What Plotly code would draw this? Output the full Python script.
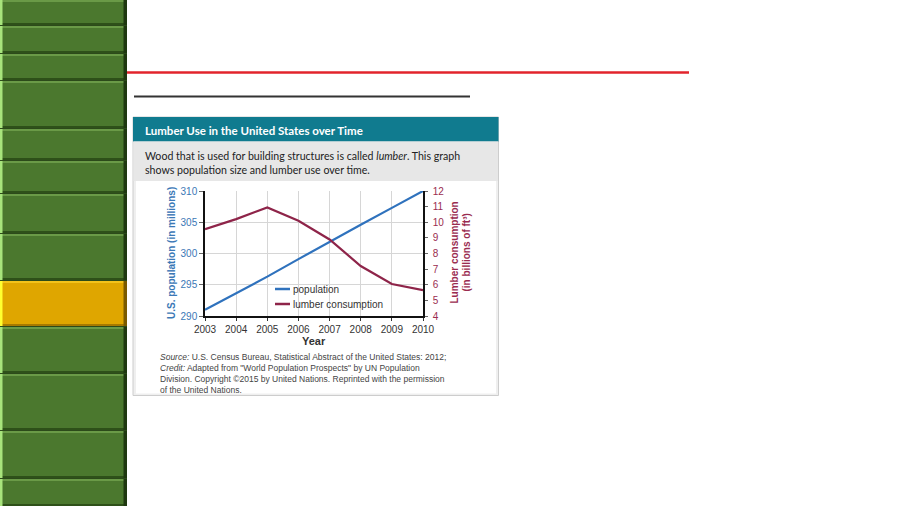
import plotly.graph_objects as go

# ---------------- data ----------------
years = [2003, 2004, 2005, 2006, 2007, 2008, 2009, 2010]
population = [291.0, 293.6, 296.3, 299.1, 301.9, 304.6, 307.3, 310.0]
lumber = [9.55, 10.2, 10.95, 10.1, 8.9, 7.2, 6.05, 5.65]
series_names = ["population", "lumber consumption"]
left_ticks = [290, 295, 300, 305, 310]
right_ticks = [4, 5, 6, 7, 8, 9, 10, 11, 12]

card_title = "Lumber Use in the United States over Time"
card_desc = ("Wood that is used for building structures is called <i>lumber</i>. This graph<br>"
             "shows population size and lumber use over time.")
left_title = "U.S. population (in millions)"
right_title_1 = "Lumber consumption"
right_title_2 = "(in billions of ft³)"
x_title = "Year"
source_text = ("<i>Source:</i> U.S. Census Bureau, Statistical Abstract of the United States: 2012;<br>"
               "<i>Credit:</i> Adapted from \"World Population Prospects\" by UN Population<br>"
               "Division. Copyright ©2015 by United Nations. Reprinted with the permission<br>"
               "of the United Nations.")

# ---------------- helpers ----------------
W, H = 900, 506


def X(p):
    return p / W


def Y(p):
    return 1 - p / H


BLUE = "#2f72bd"
MAROON = "#8e2449"
BLUE_TXT = "#3b78b6"
MAROON_TXT = "#9a2c50"
GRID = "#d6d6d6"
FONT = "Liberation Sans, Arial, sans-serif"

fig = go.Figure()
fig.add_trace(go.Scatter(x=years, y=population, mode="lines", name=series_names[0],
                         line=dict(color=BLUE, width=2.2), yaxis="y", cliponaxis=False,
                         showlegend=False))
fig.add_trace(go.Scatter(x=years, y=lumber, mode="lines", name=series_names[1],
                         line=dict(color=MAROON, width=2.2), yaxis="y2", cliponaxis=False,
                         showlegend=False))

shapes = []


def rect(x0, y0, x1, y1, fill, line=None, lw=0, layer="below"):
    shapes.append(dict(type="rect", xref="paper", yref="paper",
                       x0=X(x0), x1=X(x1), y0=Y(y1), y1=Y(y0),
                       fillcolor=fill, line=dict(color=line or fill, width=lw), layer=layer))


def hline(x0, x1, y, color, width, layer="below"):
    shapes.append(dict(type="line", xref="paper", yref="paper",
                       x0=X(x0), x1=X(x1), y0=Y(y), y1=Y(y),
                       line=dict(color=color, width=width), layer=layer))


# ---- sidebar ----
rect(0, 0, 127, 506, "#2c4a1a")
bands = [(0, 25), (26, 53), (54, 80), (81, 128), (129, 160), (161, 193), (194, 233),
         (234, 280), (281, 326), (327, 373), (374, 430), (431, 478), (479, 506)]
for i, (t, b) in enumerate(bands):
    yellow = (i == 8)
    main = "#dfa600" if yellow else "#4b782e"
    light = "#f3c21a" if yellow else "#6a9a47"
    dark = "#a77a00" if yellow else "#2e5019"
    edge = "#ffff30" if yellow else "#a8e47c"
    rect(0, t, 127, b, main)
    rect(0, t, 127, t + 2, light)
    rect(0, b - 2, 127, b, dark)
    rect(0, t, 2.5, b, edge)
    rect(123.5, t, 127, b, "#1f3810" if not yellow else "#7a5a00")

# ---- header lines ----
hline(127, 689, 72.5, "#e2242c", 2.5)
hline(134, 470, 96.5, "#333333", 2)

# ---- card ----
rect(133, 117, 498.5, 395.5, "#efefef", "#cdcdcd", 1)
rect(133, 117, 498.5, 141.5, "#107b8f")
rect(133.5, 141.5, 498, 181, "#e7e7e7")
rect(136, 181, 496, 393.5, "#ffffff")

# ---- legend (manual) ----
rect(272, 281, 392, 311, "#ffffff", layer="between")
hline(275, 290, 289, BLUE, 2.5, layer="above")
hline(275, 290, 304, MAROON, 2.5, layer="above")

annotations = [
    dict(text="<b>%s</b>" % card_title, x=X(143), y=Y(130), xanchor="left", yanchor="middle",
         font=dict(family="Lato, sans-serif", size=11.5, color="white")),
    dict(text=card_desc, x=X(143), y=Y(162.5), xanchor="left", yanchor="middle", align="left",
         font=dict(family="Lato, sans-serif", size=10.6, color="#222222")),
    dict(text="<b>%s</b>" % left_title, x=X(171), y=Y(253), textangle=-90,
         xanchor="center", yanchor="middle", font=dict(family=FONT, size=10, color=BLUE_TXT)),
    dict(text="<b>%s</b>" % right_title_1, x=X(453.5), y=Y(253), textangle=-90,
         xanchor="center", yanchor="middle", font=dict(family=FONT, size=10, color=MAROON_TXT)),
    dict(text="<b>%s</b>" % right_title_2, x=X(465.5), y=Y(253), textangle=-90,
         xanchor="center", yanchor="middle", font=dict(family=FONT, size=10, color=MAROON_TXT)),
    dict(text="<b>%s</b>" % x_title, x=X(314), y=Y(341), xanchor="center", yanchor="middle",
         font=dict(family=FONT, size=11, color="#333333")),
    dict(text=series_names[0], x=X(290.5), y=Y(289), xanchor="left", yanchor="middle",
         font=dict(family=FONT, size=10, color="#333333")),
    dict(text=series_names[1], x=X(290.5), y=Y(304), xanchor="left", yanchor="middle",
         font=dict(family=FONT, size=10, color="#333333")),
    dict(text=source_text, x=X(158), y=Y(373.5), xanchor="left", yanchor="middle", align="left",
         font=dict(family=FONT, size=8.5, color="#444444")),
]
for a in annotations:
    a.update(xref="paper", yref="paper", showarrow=False)

fig.update_layout(
    width=W, height=H, autosize=False,
    margin=dict(l=0, r=0, t=0, b=0, pad=0, autoexpand=False),
    paper_bgcolor="white", plot_bgcolor="rgba(0,0,0,0)",
    showlegend=False,
    shapes=shapes, annotations=annotations,
    xaxis=dict(domain=[X(205), X(423)], range=[2003, 2010], tickvals=years, automargin=False,
               showgrid=True, gridcolor=GRID, gridwidth=1, zeroline=False,
               showline=True, linecolor="#111111", linewidth=1.5,
               ticks="outside", ticklen=3, tickcolor="#333333",
               tickfont=dict(family=FONT, size=10, color="#333333")),
    yaxis=dict(domain=[Y(316), Y(191)], range=[290, 310], tickvals=left_ticks, automargin=False,
               showgrid=True, gridcolor=GRID, gridwidth=1, zeroline=False,
               showline=True, linecolor="#111111", linewidth=1.5,
               ticks="outside", ticklen=4, tickcolor="#666666",
               tickfont=dict(family=FONT, size=10, color=BLUE_TXT)),
    yaxis2=dict(range=[4, 12], tickvals=right_ticks, overlaying="y", side="right", automargin=False,
                anchor="x", showgrid=False, zeroline=False,
                showline=True, linecolor="#111111", linewidth=1.5,
                ticks="outside", ticklen=3, tickcolor="#666666", ticklabelstandoff=3,
                tickfont=dict(family=FONT, size=10, color=MAROON_TXT)),
)

fig.write_html("out.html")
